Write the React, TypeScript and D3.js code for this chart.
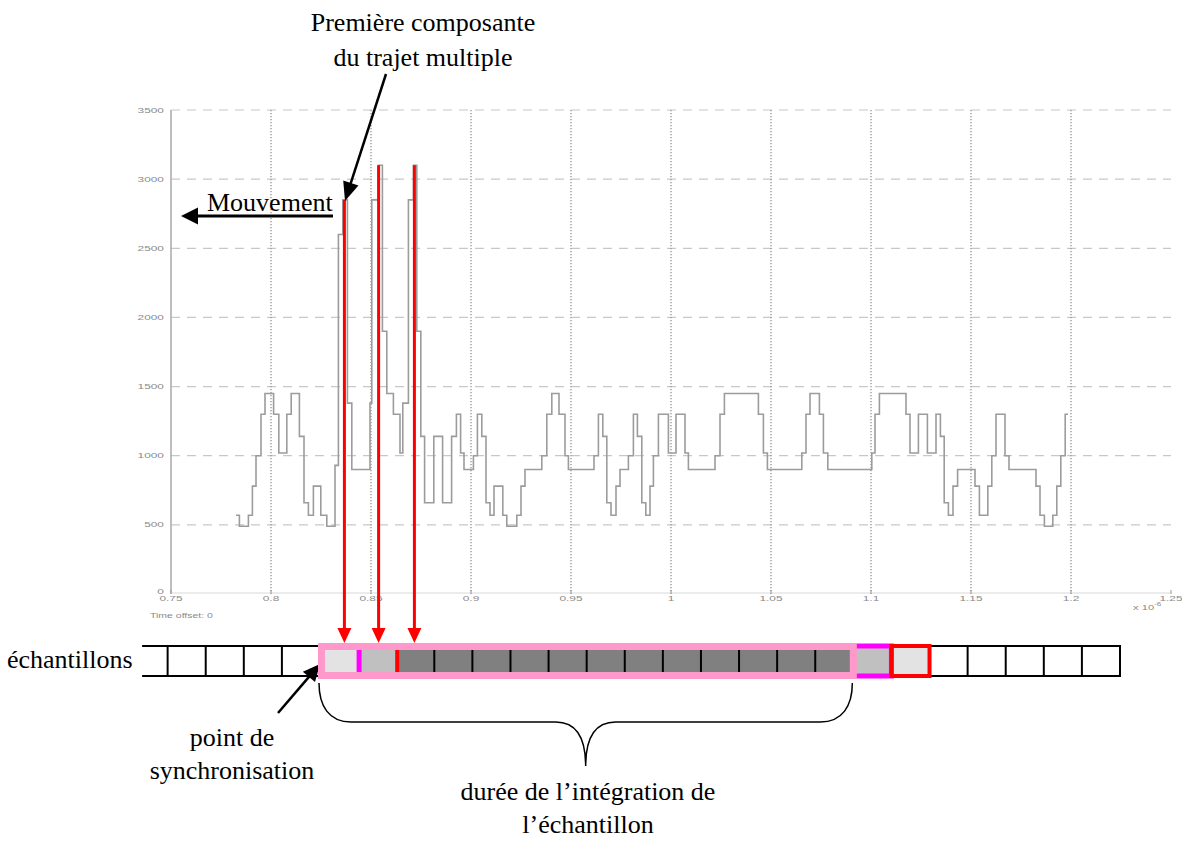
import { useEffect, useRef } from "react"
import * as d3 from "d3"

// Corrélation mesurée : temps (x 10^-6) et amplitude, en marches
const traceTime = [
  0.7825, 0.7842, 0.7887, 0.7907, 0.7925, 0.795, 0.797, 0.8013, 0.8039, 0.8079,
  0.8101, 0.8142, 0.8165, 0.8187, 0.8212, 0.8249, 0.8279, 0.832, 0.8337, 0.8359,
  0.8382, 0.8404, 0.8495, 0.8504, 0.8537, 0.8557, 0.8579, 0.8612, 0.8645, 0.8659,
  0.8687, 0.8712, 0.8729, 0.8749, 0.8768, 0.8814, 0.8858, 0.8903, 0.8927, 0.8948,
  0.8965, 0.9012, 0.9032, 0.9054, 0.9075, 0.9095, 0.9115, 0.9159, 0.9179, 0.9229,
  0.925, 0.927, 0.9354, 0.9379, 0.9404, 0.944, 0.947, 0.9487, 0.9615, 0.9637,
  0.9659, 0.9679, 0.97, 0.9725, 0.9745, 0.9787, 0.9812, 0.9832, 0.9854, 0.9874,
  0.9895, 0.9912, 0.9937, 0.9987, 1.0025, 1.007, 1.0087, 1.022, 1.0245, 1.0267,
  1.0437, 1.0462, 1.0482, 1.0654, 1.0675, 1.0695, 1.0742, 1.0762, 1.0784, 1.1004,
  1.102, 1.1042, 1.1175, 1.1195, 1.1237, 1.1282, 1.1325, 1.1347, 1.1366, 1.1387,
  1.141, 1.1433, 1.152, 1.1542, 1.1584, 1.1604, 1.1625, 1.167, 1.169, 1.1825,
  1.1845, 1.1867, 1.1909, 1.1929, 1.1949, 1.1971, 1.1985,
]
const traceValue = [
  570, 490, 570, 780, 1000, 1300, 1450, 1300, 1020, 1300,
  1450, 1140, 660, 570, 780, 570, 490, 930, 2600, 2850,
  1380, 900, 1380, 2850, 3100, 1900, 1450, 1300, 1020, 1380,
  2850, 3100, 1900, 1140, 660, 1140, 660, 1140, 1300, 1020,
  900, 1000, 1300, 1140, 660, 570, 780, 570, 490, 570,
  780, 900, 1000, 1300, 1450, 1300, 1000, 900, 1000, 1300,
  1140, 660, 570, 780, 900, 1000, 1300, 1140, 660, 570,
  780, 1000, 1300, 1020, 1300, 1020, 900, 1000, 1300, 1450,
  1300, 1020, 900, 1020, 1300, 1450, 1300, 1020, 900, 1020,
  1300, 1450, 1300, 1020, 1300, 1020, 1300, 1140, 660, 570,
  780, 900, 780, 570, 780, 1000, 1300, 1000, 900, 780,
  570, 490, 570, 780, 1000, 1300, 1300,
]

const xTicks = [0.75, 0.8, 0.85, 0.9, 0.95, 1, 1.05, 1.1, 1.15, 1.2, 1.25]
const xTickLabels = ["0.75", "0.8", "0.85", "0.9", "0.95", "1", "1.05", "1.1", "1.15", "1.2", "1.25"]
const yTicks = [0, 500, 1000, 1500, 2000, 2500, 3000, 3500]

// composantes du trajet multiple (pics)
const pathTime = [0.8367, 0.8538, 0.8717]
const pathValue = [2850, 3100, 3100]

// échantillons, de l'indice -4 à 20 (0 = point de synchronisation)
const sampleStart = -4
const sampleShade = [
  "none", "none", "none", "none",
  "light", "mid",
  "dark", "dark", "dark", "dark", "dark", "dark", "dark", "dark", "dark", "dark", "dark", "dark",
  "mid", "light",
  "none", "none", "none", "none", "none",
]

const shadeColor: Record<string, string> = {
  none: "#ffffff",
  light: "#e3e3e3",
  mid: "#c0c0c0",
  dark: "#808080",
}

const App = () => {
  const svgRef = useRef<SVGSVGElement | null>(null)

  useEffect(() => {
    document.body.style.margin = "0"
    const svg = d3.select(svgRef.current)
    svg.selectAll("*").remove()

    const x = d3.scaleLinear().domain([0.75, 1.25]).range([171, 1171])
    const y = d3.scaleLinear().domain([0, 3500]).range([594, 110])

    const plot = svg.append("g")

    // horizontal dashed grid
    plot
      .selectAll("line.hgrid")
      .data(yTicks.filter((d) => d > 0))
      .enter()
      .append("line")
      .attr("x1", x(0.75))
      .attr("x2", x(1.25))
      .attr("y1", (d) => y(d))
      .attr("y2", (d) => y(d))
      .attr("stroke", "#c8c8c8")
      .attr("stroke-width", 1.2)
      .attr("stroke-dasharray", "9,7")

    // vertical dotted grid
    plot
      .selectAll("line.vgrid")
      .data(xTicks.slice(1, -1))
      .enter()
      .append("line")
      .attr("x1", (d) => x(d))
      .attr("x2", (d) => x(d))
      .attr("y1", y(3500))
      .attr("y2", y(0))
      .attr("stroke", "#9a9a9a")
      .attr("stroke-width", 1.4)
      .attr("stroke-dasharray", "1.3,1.7")

    // axes
    plot
      .append("line")
      .attr("x1", x(0.75))
      .attr("x2", x(0.75))
      .attr("y1", y(3500))
      .attr("y2", y(0))
      .attr("stroke", "#a8a8a8")
      .attr("stroke-width", 1.5)
    plot
      .append("line")
      .attr("x1", x(0.75))
      .attr("x2", x(1.25))
      .attr("y1", y(0) - 1)
      .attr("y2", y(0) - 1)
      .attr("stroke", "#d8d8d8")
      .attr("stroke-width", 1)
    plot
      .selectAll("line.xtick")
      .data(xTicks)
      .enter()
      .append("line")
      .attr("x1", (d) => x(d))
      .attr("x2", (d) => x(d))
      .attr("y1", y(0) - 4)
      .attr("y2", y(0))
      .attr("stroke", "#999")
      .attr("stroke-width", 1)

    const tickFont = "Liberation Sans, Arial, sans-serif"

    // x tick labels (stretched, like the screenshot)
    plot
      .selectAll("text.xlab")
      .data(xTicks)
      .enter()
      .append("text")
      .attr("transform", (d) => `translate(${x(d)},${y(0) + 7}) scale(1.7,1)`)
      .attr("text-anchor", "middle")
      .style("font-family", tickFont)
      .style("font-size", "7px")
      .style("fill", "#8a8a8a")
      .text((d, i) => xTickLabels[i])

    // y tick labels
    plot
      .selectAll("text.ylab")
      .data(yTicks)
      .enter()
      .append("text")
      .attr("transform", (d) => `translate(164,${y(d) + (d === 0 ? 0 : 2.5)}) scale(1.7,1)`)
      .attr("text-anchor", "end")
      .style("font-family", tickFont)
      .style("font-size", "7px")
      .style("fill", "#8a8a8a")
      .text((d) => String(d))

    plot
      .append("text")
      .attr("transform", `translate(150,${y(0) + 24}) scale(1.5,1)`)
      .style("font-family", tickFont)
      .style("font-size", "7px")
      .style("fill", "#8a8a8a")
      .text("Time offset: 0")

    const expo = plot
      .append("text")
      .attr("transform", `translate(1133,${y(0) + 16}) scale(1.6,1)`)
      .style("font-family", tickFont)
      .style("font-size", "7px")
      .style("fill", "#8a8a8a")
    expo.append("tspan").text("x 10")
    expo.append("tspan").attr("dy", -4).style("font-size", "5px").text("-6")

    // step trace
    const line = d3
      .line<number>()
      .x((d, i) => x(traceTime[i]))
      .y((d) => y(d))
      .curve(d3.curveStepAfter)
    plot
      .append("path")
      .datum(traceValue)
      .attr("fill", "none")
      .attr("stroke", "#9c9c9c")
      .attr("stroke-width", 1.6)
      .attr("d", line)

    const ann = svg.append("g")
    const serif = "Liberation Serif, Times New Roman, serif"

    const arrow = (
      x1: number,
      y1: number,
      x2: number,
      y2: number,
      color: string,
      width: number,
      headLen: number,
      headHalf: number,
    ) => {
      const a = Math.atan2(y2 - y1, x2 - x1)
      const bx = x2 - headLen * Math.cos(a)
      const by = y2 - headLen * Math.sin(a)
      ann
        .append("line")
        .attr("x1", x1)
        .attr("y1", y1)
        .attr("x2", bx + Math.cos(a))
        .attr("y2", by + Math.sin(a))
        .attr("stroke", color)
        .attr("stroke-width", width)
      ann
        .append("polygon")
        .attr(
          "points",
          [
            [x2, y2],
            [bx + headHalf * Math.sin(a), by - headHalf * Math.cos(a)],
            [bx - headHalf * Math.sin(a), by + headHalf * Math.cos(a)],
          ]
            .map((p) => p.join(","))
            .join(" "),
        )
        .attr("fill", color)
    }

    // red lines from the peaks to the samples
    pathTime.forEach((t, i) => {
      arrow(x(t), y(pathValue[i]), x(t), 643, "#ff0000", 3, 15, 7)
    })

    // annotations
    const label = (txt: string, px: number, py: number, anchor: string) =>
      ann
        .append("text")
        .attr("x", px)
        .attr("y", py)
        .attr("text-anchor", anchor)
        .style("font-family", serif)
        .style("font-size", "26px")
        .style("fill", "#000")
        .text(txt)

    label("Première composante", 423, 31, "middle")
    label("du trajet multiple", 423, 66, "middle")
    arrow(386, 74, 345, 201, "#000", 2.5, 19, 8)

    label("Mouvement", 207, 211, "start")
    arrow(333, 216, 181, 216, "#000", 3, 17, 8.5)

    label("échantillons", 7, 668, "start")
    label("point de", 232, 746, "middle")
    label("synchronisation", 232, 779, "middle")
    arrow(278, 713, 320, 664, "#000", 2.5, 17, 8)

    label("durée de l’intégration de", 588, 800, "middle")
    label("l’échantillon", 588, 833, "middle")

    // sample strip
    const cx = d3.scaleLinear().domain([0, 21]).range([320, 1120])
    const top = 646
    const bottom = 676
    const strip = svg.append("g")
    const cells = sampleShade.map((s, i) => ({ idx: sampleStart + i, shade: s }))

    strip
      .selectAll("rect.cell")
      .data(cells.filter((c) => c.shade !== "none"))
      .enter()
      .append("rect")
      .attr("x", (d) => cx(d.idx))
      .attr("y", top)
      .attr("width", (d) => cx(d.idx + 1) - cx(d.idx))
      .attr("height", bottom - top)
      .attr("fill", (d) => shadeColor[d.shade])

    // plain cells: horizontal rails and separators
    const plainRuns = [
      [-4.67, 0],
      [16, 21],
    ]
    plainRuns.forEach(([a, b]) => {
      ;[top, bottom].forEach((yy) => {
        strip
          .append("line")
          .attr("x1", cx(a))
          .attr("x2", cx(b))
          .attr("y1", yy)
          .attr("y2", yy)
          .attr("stroke", "#000")
          .attr("stroke-width", 2)
      })
    })
    const plainEdges = [-4, -3, -2, -1, 0, 16, 17, 18, 19, 20, 21]
    strip
      .selectAll("line.edge")
      .data(plainEdges)
      .enter()
      .append("line")
      .attr("x1", (d) => cx(d))
      .attr("x2", (d) => cx(d))
      .attr("y1", top - 1)
      .attr("y2", bottom + 1)
      .attr("stroke", "#000")
      .attr("stroke-width", 2)

    // separators inside the dark block
    strip
      .selectAll("line.sep")
      .data(d3.range(3, 14))
      .enter()
      .append("line")
      .attr("x1", (d) => cx(d))
      .attr("x2", (d) => cx(d))
      .attr("y1", top)
      .attr("y2", bottom)
      .attr("stroke", "#000")
      .attr("stroke-width", 2)

    strip
      .append("line")
      .attr("x1", cx(1) + 1)
      .attr("x2", cx(1) + 1)
      .attr("y1", top)
      .attr("y2", bottom)
      .attr("stroke", "#ff00ff")
      .attr("stroke-width", 5)
    strip
      .append("line")
      .attr("x1", cx(2) + 1)
      .attr("x2", cx(2) + 1)
      .attr("y1", top)
      .attr("y2", bottom)
      .attr("stroke", "#ff0000")
      .attr("stroke-width", 4)

    // next sample boxes
    strip
      .append("rect")
      .attr("x", cx(14))
      .attr("y", top)
      .attr("width", cx(15) - cx(14))
      .attr("height", bottom - top)
      .attr("fill", "none")
      .attr("stroke", "#ff00ff")
      .attr("stroke-width", 5)
    strip
      .append("rect")
      .attr("x", cx(15))
      .attr("y", top)
      .attr("width", cx(16) - cx(15))
      .attr("height", bottom - top)
      .attr("fill", "none")
      .attr("stroke", "#ff0000")
      .attr("stroke-width", 4)

    // integration window
    strip
      .append("rect")
      .attr("x", cx(0) + 1.5)
      .attr("y", top + 0.5)
      .attr("width", cx(14) - cx(0) - 1.5)
      .attr("height", bottom - top - 1)
      .attr("fill", "none")
      .attr("stroke", "#ff99cc")
      .attr("stroke-width", 7)

    // brace under the integration window
    const bl = cx(0) - 1
    const br = cx(14) - 1
    const bm = (bl + br) / 2
    strip
      .append("path")
      .attr(
        "d",
        `M${bl},683 C${bl},706 ${bl + 10},722 ${bl + 32},722 L${bm - 30},722 ` +
          `C${bm - 10},722 ${bm},736 ${bm},766 C${bm},736 ${bm + 10},722 ${bm + 30},722 ` +
          `L${br - 32},722 C${br - 10},722 ${br},706 ${br},683`,
      )
      .attr("fill", "none")
      .attr("stroke", "#000")
      .attr("stroke-width", 1.5)
  }, [])

  return (
    <div>
      <svg ref={svgRef} width={1182} height={842} style={{ display: "block", background: "#fff" }}></svg>
    </div>
  )
}

export default App
